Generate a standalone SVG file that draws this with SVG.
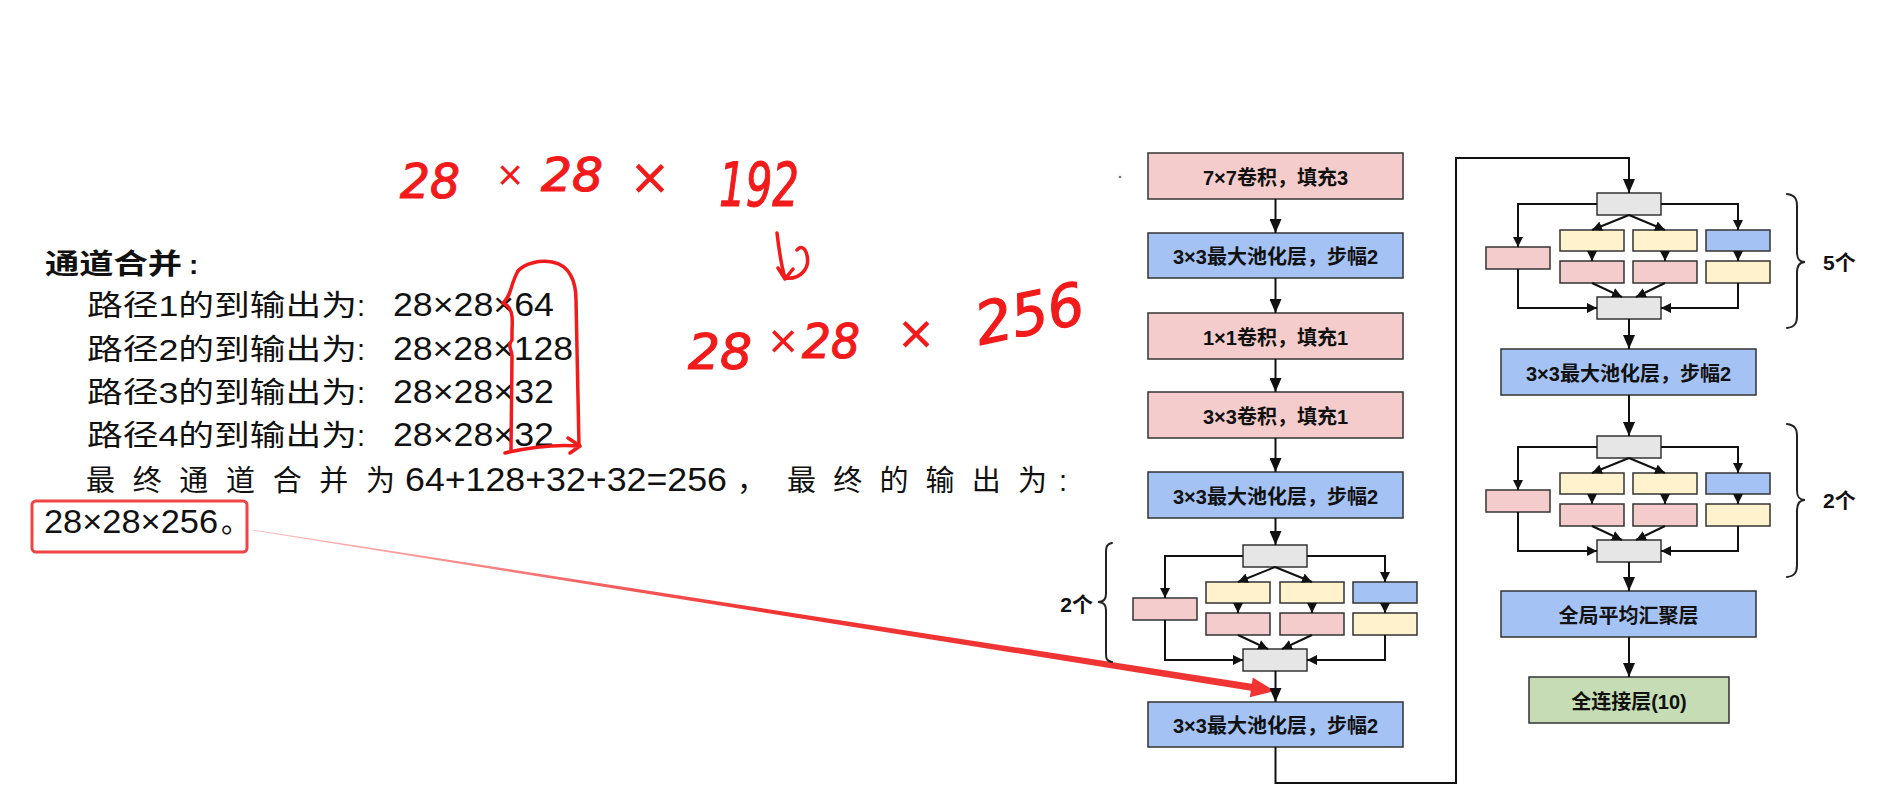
<svg xmlns="http://www.w3.org/2000/svg" width="1889" height="808" viewBox="0 0 1889 808">
<style>
.bx{stroke:#333;stroke-width:1.5}
.pk{fill:#f4cccc}.bl{fill:#a4c2f4}.ye{fill:#fff2cc}.gr{fill:#e6e6e6}.gn{fill:#c6dcb4}
.lbl{font-family:"Liberation Sans","Noto Sans CJK SC",sans-serif;font-weight:bold;font-size:20px;fill:#111;text-anchor:middle}
.cn{stroke:#111;stroke-width:2;fill:none}
.big{marker-end:url(#ah)}
.sm{marker-end:url(#as)}
.br{stroke:#222;stroke-width:2;fill:none;stroke-linecap:round}
.cnt{font-family:"Liberation Sans","Noto Sans CJK SC",sans-serif;font-size:21px;font-weight:bold;fill:#111}
.tx{font-family:"Liberation Sans","Noto Sans CJK SC",sans-serif;fill:#111}
.cj{font-size:29px}
.nm{font-size:33px}
.hw{font-family:"DejaVu Sans",sans-serif;font-style:oblique;fill:#f21a1a;stroke:#f21a1a;stroke-width:1.2}
.hx{font-family:"Liberation Sans",sans-serif;fill:#f21a1a;text-anchor:middle}
.hs{stroke:#f21a1a;stroke-width:3.5;fill:none;stroke-linecap:round;stroke-linejoin:round}
</style>
<defs>
<marker id="ah" markerUnits="userSpaceOnUse" markerWidth="14" markerHeight="12" viewBox="0 0 14 12" refX="14" refY="6" orient="auto"><path d="M0,0 L14,6 L0,12 z" fill="#111"/></marker>
<marker id="as" markerUnits="userSpaceOnUse" markerWidth="10" markerHeight="10" viewBox="0 0 10 10" refX="10" refY="5" orient="auto"><path d="M0,0 L10,5 L0,10 z" fill="#111"/></marker>
<linearGradient id="redfade" gradientUnits="userSpaceOnUse" x1="253" y1="530" x2="760" y2="610"><stop offset="0" stop-color="#ffc4c4"/><stop offset="1" stop-color="#f03434"/></linearGradient>
</defs>
<rect width="1889" height="808" fill="#fff"/>

<!-- left explanatory text -->
<g id="text-block">
<text class="tx" x="45" y="274" font-size="28" font-weight="bold" textLength="137" lengthAdjust="spacingAndGlyphs">通道合并</text>
<text class="tx" x="189" y="274" font-size="28" font-weight="bold">:</text>
<text class="tx cj" x="87" y="316" textLength="270" lengthAdjust="spacingAndGlyphs">路径1的到输出为</text>
<text class="tx cj" x="357" y="316">:</text>
<text class="tx nm" x="393" y="316" textLength="161" lengthAdjust="spacingAndGlyphs">28×28×64</text>
<text class="tx cj" x="87" y="360" textLength="270" lengthAdjust="spacingAndGlyphs">路径2的到输出为</text>
<text class="tx cj" x="357" y="360">:</text>
<text class="tx nm" x="393" y="360" textLength="180" lengthAdjust="spacingAndGlyphs">28×28×128</text>
<text class="tx cj" x="87" y="403" textLength="270" lengthAdjust="spacingAndGlyphs">路径3的到输出为</text>
<text class="tx cj" x="357" y="403">:</text>
<text class="tx nm" x="393" y="403" textLength="161" lengthAdjust="spacingAndGlyphs">28×28×32</text>
<text class="tx cj" x="87" y="446" textLength="270" lengthAdjust="spacingAndGlyphs">路径4的到输出为</text>
<text class="tx cj" x="357" y="446">:</text>
<text class="tx nm" x="393" y="446" textLength="161" lengthAdjust="spacingAndGlyphs">28×28×32</text>
<text class="tx cj" x="86" y="491" textLength="309" lengthAdjust="spacing">最终通道合并为</text>
<text class="tx nm" x="405" y="491" textLength="322" lengthAdjust="spacingAndGlyphs">64+128+32+32=256</text>
<text class="tx cj" x="737" y="491">，</text>
<text class="tx cj" x="787" y="491" textLength="260" lengthAdjust="spacing">最终的输出为</text>
<text class="tx cj" x="1059" y="491">:</text>
<text class="tx nm" x="44" y="533" textLength="174" lengthAdjust="spacingAndGlyphs">28×28×256</text>
<text class="tx cj" x="221" y="533">。</text>
<rect x="32" y="501" width="215" height="51" rx="4" fill="none" stroke="#ef4444" stroke-width="3"/>
</g>

<!-- handwritten annotations -->
<g id="handwriting">
<text class="hw" x="400" y="198" font-size="48" textLength="60" lengthAdjust="spacingAndGlyphs">28</text>
<text class="hx" x="510" y="190" font-size="44">×</text>
<text class="hw" x="541" y="191" font-size="46" textLength="62" lengthAdjust="spacingAndGlyphs">28</text>
<text class="hx" x="650" y="200" font-size="64">×</text>
<text class="hw" x="719" y="206" font-size="60" textLength="80" lengthAdjust="spacingAndGlyphs">192</text>
<path class="hs" d="M777 233 C779 250 781 265 785 278 M785 278 C800 280 812 268 806 252 C804 247 800 246 797 250 M778 268 L785 279 L793 269"/>
<text class="hw" x="688" y="369" font-size="50" textLength="64" lengthAdjust="spacingAndGlyphs">28</text>
<text class="hx" x="783" y="358" font-size="50">×</text>
<text class="hw" x="802" y="358" font-size="48" textLength="58" lengthAdjust="spacingAndGlyphs">28</text>
<text class="hx" x="916" y="354" font-size="60">×</text>
<text class="hw" x="980" y="345" font-size="58" textLength="110" lengthAdjust="spacingAndGlyphs" transform="rotate(-12 980 345)">256</text>
<path class="hs" d="M518 271 C510 285 512 295 503 303 C512 307 513 315 512 330 L512 340 C507 346 512 350 512 356 L511 450"/>
<path class="hs" d="M518 271 C525 263 540 260 552 262 C570 265 576 282 576 300 L579 446"/>
<path class="hs" d="M505 453 C530 447 555 444 580 446 M568 438 L580 446 L570 453"/>
<polygon points="253.1,529.5 1251.8,683.8 1252.8,677.4 1275,691 1249.8,697.2 1250.8,690.8 252.9,530.5" fill="url(#redfade)"/>
</g>

<circle cx="1120" cy="177" r="1.3" fill="#777"/>

<!-- main column nodes -->
<g id="n-conv7"><rect class="bx pk" x="1148" y="153" width="255" height="46"/><text class="lbl" x="1275.5" y="185">7×7卷积，填充3</text></g>
<g id="n-pool1"><rect class="bx bl" x="1148" y="233" width="255" height="45"/><text class="lbl" x="1275.5" y="264">3×3最大池化层，步幅2</text></g>
<g id="n-conv1"><rect class="bx pk" x="1148" y="313" width="255" height="46"/><text class="lbl" x="1275.5" y="345">1×1卷积，填充1</text></g>
<g id="n-conv3"><rect class="bx pk" x="1148" y="392" width="255" height="46"/><text class="lbl" x="1275.5" y="424">3×3卷积，填充1</text></g>
<g id="n-pool2"><rect class="bx bl" x="1148" y="472" width="255" height="46"/><text class="lbl" x="1275.5" y="504">3×3最大池化层，步幅2</text></g>

<g id="n-incA">
<rect class="bx gr" x="1243" y="545" width="64" height="22"/>
<rect class="bx pk" x="1133" y="598" width="64" height="22"/>
<rect class="bx ye" x="1206" y="582" width="64" height="21"/>
<rect class="bx pk" x="1206" y="613" width="64" height="22"/>
<rect class="bx ye" x="1280" y="582" width="64" height="21"/>
<rect class="bx pk" x="1280" y="613" width="64" height="22"/>
<rect class="bx bl" x="1353" y="582" width="64" height="21"/>
<rect class="bx ye" x="1353" y="613" width="64" height="22"/>
<rect class="bx gr" x="1243" y="649" width="64" height="22"/>
</g>
<g id="n-pool3"><rect class="bx bl" x="1148" y="702" width="255" height="45"/><text class="lbl" x="1275.5" y="733">3×3最大池化层，步幅2</text></g>

<!-- right column nodes -->
<g id="n-incB">
<rect class="bx gr" x="1597" y="193" width="64" height="22"/>
<rect class="bx pk" x="1486" y="247" width="64" height="22"/>
<rect class="bx ye" x="1560" y="230" width="64" height="21"/>
<rect class="bx pk" x="1560" y="261" width="64" height="22"/>
<rect class="bx ye" x="1633" y="230" width="64" height="21"/>
<rect class="bx pk" x="1633" y="261" width="64" height="22"/>
<rect class="bx bl" x="1706" y="230" width="64" height="21"/>
<rect class="bx ye" x="1706" y="261" width="64" height="22"/>
<rect class="bx gr" x="1597" y="297" width="64" height="22"/>
</g>
<g id="n-pool4"><rect class="bx bl" x="1501" y="349" width="255" height="46"/><text class="lbl" x="1628.5" y="381">3×3最大池化层，步幅2</text></g>
<g id="n-incC">
<rect class="bx gr" x="1597" y="436" width="64" height="22"/>
<rect class="bx pk" x="1486" y="490" width="64" height="22"/>
<rect class="bx ye" x="1560" y="473" width="64" height="21"/>
<rect class="bx pk" x="1560" y="504" width="64" height="22"/>
<rect class="bx ye" x="1633" y="473" width="64" height="21"/>
<rect class="bx pk" x="1633" y="504" width="64" height="22"/>
<rect class="bx bl" x="1706" y="473" width="64" height="21"/>
<rect class="bx ye" x="1706" y="504" width="64" height="22"/>
<rect class="bx gr" x="1597" y="540" width="64" height="22"/>
</g>
<g id="n-gap"><rect class="bx bl" x="1501" y="591" width="255" height="46"/><text class="lbl" x="1628.5" y="623">全局平均汇聚层</text></g>
<g id="n-fc"><rect class="bx gn" x="1529" y="677" width="200" height="46"/><text class="lbl" x="1629" y="709">全连接层(10)</text></g>

<!-- braces and repeat counts -->
<g id="brace-left"><path class="br" d="M1112 543 C1106 544 1106 548 1106 554 L1106 594 C1106 600 1103 602 1098 602 C1103 602 1106 604 1106 610 L1106 652 C1106 658 1106 661 1112 662"/><text class="cnt" x="1093" y="612" text-anchor="end">2个</text></g>
<g id="brace-r1"><path class="br" d="M1787 194 C1795 195 1797 199 1797 206 L1797 252 C1797 259 1799 262 1805 262 C1799 262 1797 266 1797 273 L1797 316 C1797 323 1795 327 1787 328"/><text class="cnt" x="1823" y="270">5个</text></g>
<g id="brace-r2"><path class="br" d="M1787 424 C1795 425 1797 429 1797 436 L1797 490 C1797 497 1799 500 1805 500 C1799 500 1797 504 1797 511 L1797 565 C1797 572 1795 576 1787 577"/><text class="cnt" x="1823" y="508">2个</text></g>

<!-- connectors -->
<g id="connectors">
<path class="cn big" d="M1275.5 199 V233"/>
<path class="cn big" d="M1275.5 278 V313"/>
<path class="cn big" d="M1275.5 359 V392"/>
<path class="cn big" d="M1275.5 438 V472"/>
<path class="cn big" d="M1275.5 518 V545"/>
<path class="cn big" d="M1275.5 671 V702"/>
<path class="cn big" d="M1275.5 747 V783 H1456 V158 H1629 V193"/>
<path class="cn big" d="M1629 319 V349"/>
<path class="cn big" d="M1629 395 V436"/>
<path class="cn big" d="M1629 562 V591"/>
<path class="cn big" d="M1629 637 V677"/>
<!-- block A -->
<path class="cn sm" d="M1243 556 H1165 V598"/>
<path class="cn sm" d="M1307 556 H1385 V582"/>
<path class="cn sm" d="M1275 567 L1238 582"/>
<path class="cn sm" d="M1275 567 L1312 582"/>
<path class="cn sm" d="M1238 603 V613"/>
<path class="cn sm" d="M1312 603 V613"/>
<path class="cn sm" d="M1385 603 V613"/>
<path class="cn sm" d="M1238 635 L1268 649"/>
<path class="cn sm" d="M1312 635 L1282 649"/>
<path class="cn sm" d="M1165 620 V660 H1243"/>
<path class="cn sm" d="M1385 635 V660 H1307"/>
<!-- block B -->
<path class="cn sm" d="M1597 204 H1518 V247"/>
<path class="cn sm" d="M1661 204 H1738 V230"/>
<path class="cn sm" d="M1629 215 L1592 230"/>
<path class="cn sm" d="M1629 215 L1665 230"/>
<path class="cn sm" d="M1592 251 V261"/>
<path class="cn sm" d="M1665 251 V261"/>
<path class="cn sm" d="M1738 251 V261"/>
<path class="cn sm" d="M1592 283 L1622 297"/>
<path class="cn sm" d="M1665 283 L1636 297"/>
<path class="cn sm" d="M1518 269 V308 H1597"/>
<path class="cn sm" d="M1738 283 V308 H1661"/>
<!-- block C -->
<path class="cn sm" d="M1597 447 H1518 V490"/>
<path class="cn sm" d="M1661 447 H1738 V473"/>
<path class="cn sm" d="M1629 458 L1592 473"/>
<path class="cn sm" d="M1629 458 L1665 473"/>
<path class="cn sm" d="M1592 494 V504"/>
<path class="cn sm" d="M1665 494 V504"/>
<path class="cn sm" d="M1738 494 V504"/>
<path class="cn sm" d="M1592 526 L1622 540"/>
<path class="cn sm" d="M1665 526 L1636 540"/>
<path class="cn sm" d="M1518 512 V551 H1597"/>
<path class="cn sm" d="M1738 526 V551 H1661"/>
</g>
</svg>
